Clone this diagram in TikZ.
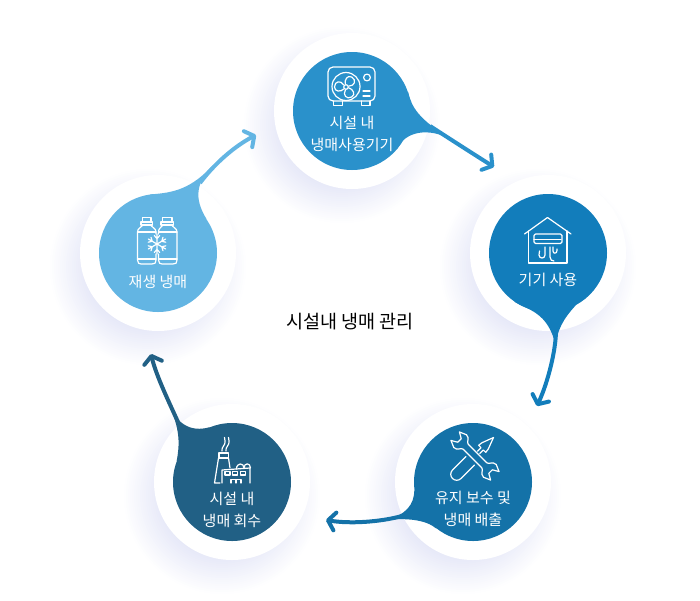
\documentclass[tikz,border=0pt]{standalone}
\usepackage{fontspec}
\newfontfamily\krfont{Noto Sans CJK KR}
\usetikzlibrary{arrows.meta}
\definecolor{cTop}{HTML}{2A91CB}
\definecolor{cRight}{HTML}{127DBB}
\definecolor{cLow}{HTML}{1472A8}
\definecolor{cDark}{HTML}{216085}
\definecolor{cLight}{HTML}{63B5E3}
\definecolor{cShade}{HTML}{5A68D0}

\begin{document}
\begin{tikzpicture}[x=1pt,y=-1pt]
\tikzstyle{ring}=[circle,fill=white,inner sep=0pt,minimum size=156pt]
\tikzstyle{bubble}=[circle,inner sep=0pt,minimum size=118pt]
\tikzstyle{arw}=[line width=4pt,-{Straight Barb[length=7pt,width=18pt,round]}]
\tikzstyle{ico}=[white,line width=1.2pt,line cap=round,line join=round]
\tikzstyle{txt}=[white,align=center,inner sep=0pt,font=\krfont\fontsize{15}{22}\selectfont]
\useasboundingbox (0,0) rectangle (700,600);

%soft shade under the rings
\foreach \cx/\cy in {352/111,548/253,473/482,232/482,158/253}{
\foreach \r in {60,62,...,98}{
\fill[cShade,opacity=.008] (\cx-10,\cy+14) circle (\r);
}
}

%white rings
\node[ring] (r1) at (352,111) {};
\node[ring] (r2) at (548,253) {};
\node[ring] (r3) at (473,482) {};
\node[ring] (r4) at (232,482) {};
\node[ring] (r5) at (158,253) {};

%colored bubbles
\node[bubble,fill=cTop] (n1) at (352,111) {};
\node[bubble,fill=cRight] (n2) at (548,253) {};
\node[bubble,fill=cLow] (n3) at (473,482) {};
\node[bubble,fill=cDark] (n4) at (232,482) {};
\node[bubble,fill=cLight] (n5) at (158,253) {};

%arrow starts, tail ends and arrow heads
\coordinate (t1) at (430,126);
\coordinate (s1) at (450,139);
\coordinate (h1) at (494,167);
\coordinate (t2) at (556,330);
\coordinate (s2) at (555.5,345);
\coordinate (h2) at (537,406);
\coordinate (t3) at (402,516);
\coordinate (s3) at (385,520);
\coordinate (h3) at (326,520);
\coordinate (t4) at (178,422);
\coordinate (s4) at (168,401);
\coordinate (h4) at (151,354);
\coordinate (t5) at (200,183);
\coordinate (s5) at (213,165);
\coordinate (h5) at (256,135);

%tails
\fill[cTop] (n1.19) .. controls (412,108) and (418,118) .. (s1) .. controls (430,128) and (405,130) .. (n1.-41) -- cycle;
\fill[cRight] (n2.-125) .. controls (528,310) and (548,312) .. (s2) .. controls (557.5,330) and (563,319) .. (n2.-62) -- cycle;
\fill[cLow] (n3.-172) .. controls (414,504) and (407,515) .. (s3) .. controls (405,518) and (425,519) .. (n3.-128) -- cycle;
\fill[cDark] (n4.159) .. controls (180,442) and (180,430) .. (s4) .. controls (175,423) and (190,433) .. (n4.112) -- cycle;
\fill[cLight] (n5.98) .. controls (175,193) and (192,188) .. (s5) .. controls (197,182) and (193,197) .. (n5.35) -- cycle;

%arrows
\draw[arw,cTop] (t1) .. controls (450,139) and (475,155) .. (h1);
\draw[arw,cRight] (t2) .. controls (556,350) and (548,382) .. (h2);
\draw[arw,cLow] (t3) .. controls (380,522) and (350,524) .. (h3);
\draw[arw,cDark] (t4) .. controls (168,400) and (156,375) .. (h4);
\draw[arw,cLight] (t5) .. controls (215,163) and (235,146) .. (h5);

%labels
\node[txt] (l1) at (352,134) {시설 내\\냉매사용기기};
\node[txt] (l2) at (548,280) {기기 사용};
\node[txt] (l3) at (473,508.5) {유지 보수 및\\냉매 배출};
\node[txt] (l4) at (232,510) {시설 내\\냉매 회수};
\node[txt] (l5) at (158,282) {재생 냉매};
\node[inner sep=0pt,font=\krfont\fontsize{18.5}{20}\selectfont] (title) at (350,322) {시설내 냉매 관리};

%fan unit
\draw[ico,rounded corners=5pt] (328,67) rectangle (375,101);
\draw[ico] (333.5,101) -- (333.5,105.5) -- (342.5,105.5) -- (342.5,101);
\draw[ico] (361.5,101) -- (361.5,105.5) -- (370,105.5) -- (370,101);
\draw[ico] (346,86.5) circle (14);
\draw[ico] (346,87) circle (2.3);
\foreach \a in {60,180,300}{
\draw[ico,shift={(346,87)},rotate=\a] (2.2,2) .. controls (5,7) and (11.5,6) .. (11.5,0) .. controls (11.5,-5) and (5,-5) .. (2.2,-2);
}
\draw[ico] (367,77.5) circle (3.4);
\draw[ico] (363,91) -- (370,91);
\draw[ico] (363,96) -- (370,96);

%house
\draw[ico] (524.5,234) -- (547.5,217.5) -- (571,234);
\draw[ico] (528.5,231) -- (528.5,263) -- (567,263) -- (567,231);
\draw[ico,rounded corners=1.5pt] (534,234) rectangle (562,243.5);
\draw[ico] (534,239.5) -- (561,239.5);
\draw[ico] (545,247) -- (545,255) .. controls (545,259) and (539,259) .. (539,255) -- (539.5,251);
\draw[ico] (550,247) -- (550,257) .. controls (550,260) and (552,261) .. (554,261);
\draw[ico] (553,247) -- (553,251) .. controls (553,254) and (557,254) .. (557,250.5) -- (557,249);

%tools
\draw[ico,shift={(473,458)},rotate=45] (-4,6) -- (-23,6) arc (90:270:6) -- (-4,-6);
\draw[ico,shift={(473,458)},rotate=45] (8,1.6) -- (13,1.6) -- (13,5) -- (17,4.5) -- (29,0) -- (17,-4.5) -- (13,-5) -- (13,-1.6) -- (8,-1.6);
\draw[ico,shift={(475,456)},rotate=-45] (-13,3.5) -- (13,3.5) .. controls (16,3.5) and (16,9) .. (21,9) -- (28,6) -- (22,2.5) -- (22,-2.5) -- (28,-6) -- (21,-9) .. controls (16,-9) and (16,-3.5) .. (13,-3.5) -- (-13,-3.5) .. controls (-16,-3.5) and (-16,-9) .. (-21,-9) -- (-28,-6) -- (-22,-2.5) -- (-22,2.5) -- (-28,6) -- (-21,9) .. controls (-16,9) and (-16,3.5) .. (-13,3.5);

%factory
\draw[ico] (222,451) .. controls (221,447) and (226,445) .. (225,441) -- (224.5,437.5);
\draw[ico] (226,451) .. controls (225,447) and (230,445) .. (229,441) -- (228.5,437.5);
\draw[ico] (219,453) rectangle (228.5,458);
\draw[ico] (218.5,458) -- (214.5,483) -- (220,483);
\draw[ico] (228.5,458) -- (230,468);
\draw[ico] (222,483) -- (222,470) -- (250,468) -- (250,483);
\draw[ico] (225,471.5) rectangle (230,475);
\draw[ico] (232.5,471.5) rectangle (237.5,475);
\draw[ico] (240.5,471.5) rectangle (245.5,475);
\draw[ico] (231,483) -- (231,479.5) -- (241,479.5) -- (241,483);
\draw[ico] (236,479.5) -- (236,483);
\draw[ico] (236.5,469) .. controls (236.5,462.5) and (244,462.5) .. (244,468);
\draw[ico] (244,468) .. controls (244,462.5) and (250.5,462.5) .. (250.5,468);

%bottles
\draw[ico] (142.5,222) -- (142.5,217.5) -- (151,217.5) -- (151,222);
\draw[ico] (141,222) rectangle (152.5,225);
\draw[ico] (162.5,222) -- (162.5,217.5) -- (172,217.5) -- (172,222);
\draw[ico] (161,222) rectangle (173.5,225);
\draw[ico] (143,225) .. controls (141,228) and (137.5,228) .. (137.5,232) -- (137.5,260) .. controls (137.5,263) and (139,264) .. (141,264) -- (152,264) .. controls (155,264) and (156,263) .. (156,260) -- (156,254);
\draw[ico] (150.5,225) .. controls (152,228) and (156,228) .. (156,232) -- (156,234);
\draw[ico] (163,225) .. controls (161,228) and (158.5,228) .. (158.5,232) -- (158.5,234);
\draw[ico] (158.5,254) -- (158.5,260) .. controls (158.5,263) and (160,264) .. (162,264) -- (173,264) .. controls (176,264) and (177,263) .. (177,260) -- (177,232) .. controls (177,228) and (173,228) .. (171.5,225);
\draw[ico] (137.5,232) -- (156,232);
\draw[ico] (158.5,232) -- (177,232);
\draw[ico] (137.5,259) -- (156,259);
\draw[ico] (158.5,259) -- (177,259);
\foreach \a in {30,90,...,330}{
\draw[ico,shift={(157,244)},rotate=\a] (0,0) -- (10,0) (5.5,0) -- (8.5,2.8) (5.5,0) -- (8.5,-2.8);
}
\end{tikzpicture}
\end{document}
